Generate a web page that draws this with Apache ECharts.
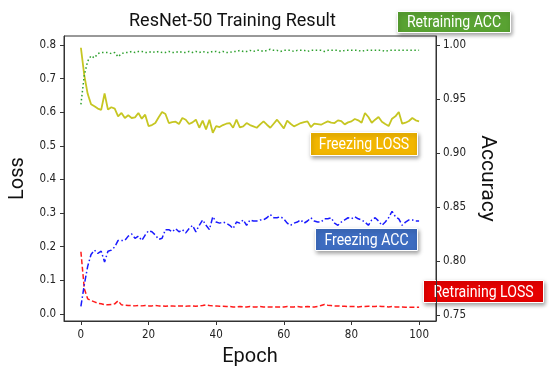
<!DOCTYPE html>
<html>
<head>
<meta charset="utf-8">
<script src="https://cdn.jsdelivr.net/npm/echarts@6/dist/echarts.min.js"></script>
<style>
  html, body { margin: 0; padding: 0; background: #fff; }
  #chart { width: 549px; height: 366px; }
</style>
</head>
<body>
<div id="chart"></div>
<script>
// epochs 0..100
const epochs = Array.from({ length: 101 }, (_, i) => i);

const lossTicks = [0, 0.1, 0.2, 0.3, 0.4, 0.5, 0.6, 0.7, 0.8];
const accTicks = [0.75, 0.8, 0.85, 0.9, 0.95, 1.0];
const epochTicks = [0, 20, 40, 60, 80, 100];

// Freezing LOSS (left axis)
const freezingLoss = [
  0.792, 0.71, 0.655, 0.624, 0.618, 0.611, 0.607, 0.656, 0.608, 0.615,
  0.611, 0.588, 0.598, 0.583, 0.591, 0.583, 0.585, 0.598, 0.581, 0.593,
  0.559, 0.562, 0.568, 0.585, 0.601, 0.595, 0.568, 0.571, 0.572, 0.565,
  0.583, 0.578, 0.565, 0.570, 0.578, 0.554, 0.575, 0.549, 0.578, 0.539,
  0.559, 0.556, 0.562, 0.566, 0.568, 0.554, 0.578, 0.555, 0.558, 0.568,
  0.562, 0.558, 0.554, 0.564, 0.573, 0.563, 0.554, 0.566, 0.578, 0.565,
  0.552, 0.575, 0.566, 0.558, 0.563, 0.568, 0.571, 0.573, 0.556, 0.566,
  0.565, 0.563, 0.568, 0.573, 0.569, 0.568, 0.576, 0.574, 0.564, 0.570,
  0.573, 0.580, 0.576, 0.569, 0.598, 0.586, 0.569, 0.578, 0.586, 0.572,
  0.565, 0.559, 0.581, 0.588, 0.601, 0.566, 0.569, 0.574, 0.583, 0.576, 0.573
];

// Retraining LOSS (left axis)
const retrainingLoss = [
  0.185, 0.075, 0.045, 0.040, 0.036, 0.032, 0.030, 0.028, 0.027, 0.028,
  0.030, 0.039, 0.027, 0.026, 0.025, 0.025, 0.024, 0.025, 0.024, 0.025,
  0.024, 0.024, 0.025, 0.024, 0.024, 0.023, 0.024, 0.024, 0.023, 0.024,
  0.024, 0.023, 0.024, 0.024, 0.023, 0.024, 0.025, 0.027, 0.025, 0.024,
  0.024, 0.023, 0.023, 0.022, 0.022, 0.021, 0.021, 0.022, 0.021, 0.021,
  0.022, 0.021, 0.021, 0.022, 0.021, 0.021, 0.021, 0.020, 0.021, 0.021,
  0.021, 0.022, 0.021, 0.021, 0.022, 0.021, 0.021, 0.022, 0.021, 0.021,
  0.022, 0.025, 0.028, 0.026, 0.025, 0.024, 0.024, 0.023, 0.023, 0.022,
  0.022, 0.022, 0.021, 0.022, 0.022, 0.023, 0.022, 0.022, 0.023, 0.022,
  0.022, 0.021, 0.022, 0.021, 0.021, 0.021, 0.020, 0.020, 0.020, 0.020, 0.020
];

// Retraining ACC (right axis)
const retrainingAcc = [
  0.945, 0.972, 0.985, 0.990, 0.988, 0.992, 0.993, 0.993, 0.993, 0.992,
  0.993, 0.989, 0.992, 0.993, 0.993, 0.994, 0.993, 0.994, 0.994, 0.993,
  0.993, 0.994, 0.993, 0.994, 0.993, 0.993, 0.994, 0.993, 0.993, 0.994,
  0.993, 0.993, 0.994, 0.993, 0.994, 0.993, 0.994, 0.993, 0.993, 0.994,
  0.994, 0.993, 0.994, 0.993, 0.993, 0.994, 0.994, 0.995, 0.994, 0.994,
  0.995, 0.994, 0.995, 0.995, 0.994, 0.995, 0.996, 0.995, 0.995, 0.994,
  0.995, 0.995, 0.995, 0.994, 0.995, 0.995, 0.995, 0.994, 0.995, 0.995,
  0.995, 0.995, 0.994, 0.995, 0.995, 0.995, 0.995, 0.994, 0.995, 0.995,
  0.995, 0.995, 0.995, 0.994, 0.995, 0.995, 0.995, 0.995, 0.995, 0.995,
  0.994, 0.995, 0.995, 0.995, 0.995, 0.995, 0.995, 0.995, 0.995, 0.995, 0.995
];

// Freezing ACC (right axis)
const freezingAcc = [
  0.758, 0.778, 0.795, 0.806, 0.810, 0.807, 0.809, 0.799, 0.809, 0.810,
  0.813, 0.819, 0.819, 0.819, 0.823, 0.825, 0.821, 0.823, 0.819, 0.824,
  0.828, 0.827, 0.824, 0.820, 0.821, 0.829, 0.829, 0.827, 0.830, 0.827,
  0.829, 0.826, 0.830, 0.833, 0.827, 0.833, 0.838, 0.833, 0.829, 0.841,
  0.836, 0.835, 0.836, 0.835, 0.833, 0.830, 0.836, 0.835, 0.838, 0.833,
  0.838, 0.837, 0.837, 0.838, 0.838, 0.840, 0.843, 0.840, 0.840, 0.841,
  0.839, 0.835, 0.833, 0.835, 0.836, 0.838, 0.835, 0.837, 0.840, 0.837,
  0.836, 0.836, 0.839, 0.839, 0.840, 0.835, 0.833, 0.836, 0.838, 0.840,
  0.839, 0.841, 0.839, 0.838, 0.836, 0.833, 0.838, 0.840, 0.837, 0.833,
  0.836, 0.840, 0.846, 0.841, 0.839, 0.833, 0.836, 0.838, 0.838, 0.837, 0.837
];

const labelFont = "Roboto";
const tickFont = "DejaVu Sans Condensed";

function pairs(values) {
  return epochs.map((e, i) => [e, values[i]]);
}

// coloured tag boxes like the original's annotations
function tag(text, x, y, w, h, color) {
  return {
    type: "group",
    left: x,
    top: y,
    children: [
      {
        type: "rect",
        shape: { x: 0, y: 0, width: w, height: h },
        style: {
          fill: color,
          stroke: "#fff",
          lineWidth: 1,
          shadowBlur: 4,
          shadowOffsetX: 1,
          shadowOffsetY: 2,
          shadowColor: "rgba(0,0,0,0.35)",
        },
      },
      {
        type: "text",
        x: w / 2,
        y: h / 2 + 1,
        scaleX: 0.88,
        style: {
          text: text,
          fill: "#fff",
          font: "16px " + labelFont,
          textAlign: "center",
          textVerticalAlign: "middle",
        },
      },
    ],
  };
}

const chart = echarts.init(document.getElementById("chart"));

chart.setOption({
  animation: false,
  title: {
    text: "ResNet-50 Training Result",
    left: 124,
    top: 7,
    textStyle: {
      fontFamily: labelFont,
      fontSize: 18,
      fontWeight: "normal",
      color: "#111",
    },
  },
  grid: {
    left: 64,
    right: 113,
    top: 36,
    bottom: 45,
    outerBoundsMode: "none",
    show: true,
    borderColor: "#333",
    borderWidth: 1,
    backgroundColor: "#fff",
  },
  xAxis: {
    type: "value",
    min: -5,
    max: 105,
    name: "Epoch",
    nameLocation: "middle",
    nameGap: 26,
    nameTextStyle: { fontFamily: labelFont, fontSize: 20, color: "#111" },
    axisLine: { show: true, onZero: false, lineStyle: { color: "#333" } },
    axisTick: {
      show: true,
      length: 4,
      customValues: epochTicks,
      lineStyle: { color: "#333" },
    },
    axisLabel: {
      customValues: epochTicks,
      margin: 8,
      fontFamily: tickFont,
      fontSize: 11.5,
      color: "#222",
    },
    splitLine: { show: false },
  },
  yAxis: [
    {
      type: "value",
      position: "left",
      min: -0.021,
      max: 0.827,
      name: "Loss",
      nameLocation: "middle",
      nameGap: 36,
      nameRotate: 90,
      nameTextStyle: { fontFamily: labelFont, fontSize: 20, color: "#111" },
      axisLine: { show: true, onZero: false, lineStyle: { color: "#333" } },
      axisTick: {
        show: true,
        length: 4,
        customValues: lossTicks,
        lineStyle: { color: "#333" },
      },
      axisLabel: {
        customValues: lossTicks,
        margin: 8,
        fontFamily: tickFont,
        fontSize: 11.5,
        color: "#222",
        formatter: (v) => v.toFixed(1),
      },
      splitLine: { show: false },
    },
    {
      type: "value",
      position: "right",
      min: 0.7444,
      max: 1.0083,
      name: "Accuracy",
      nameLocation: "middle",
      nameGap: 31,
      nameRotate: -90,
      nameTextStyle: { fontFamily: labelFont, fontSize: 21, color: "#111" },
      axisLine: { show: true, onZero: false, lineStyle: { color: "#333" } },
      axisTick: {
        show: true,
        length: 4,
        customValues: accTicks,
        lineStyle: { color: "#333" },
      },
      axisLabel: {
        customValues: accTicks,
        margin: 7,
        fontFamily: tickFont,
        fontSize: 11.5,
        color: "#222",
        formatter: (v) => v.toFixed(2),
      },
      splitLine: { show: false },
    },
  ],
  series: [
    {
      name: "Freezing LOSS",
      type: "line",
      yAxisIndex: 0,
      data: pairs(freezingLoss),
      showSymbol: false,
      lineStyle: { color: "#c6c622", width: 1.8 },
    },
    {
      name: "Retraining LOSS",
      type: "line",
      yAxisIndex: 0,
      data: pairs(retrainingLoss),
      showSymbol: false,
      lineStyle: { color: "#ff1a1a", width: 1.5, type: [5, 2.5] },
    },
    {
      name: "Retraining ACC",
      type: "line",
      yAxisIndex: 1,
      data: pairs(retrainingAcc),
      showSymbol: false,
      lineStyle: { color: "#2ea02e", width: 1.5, type: [1.5, 2.5] },
    },
    {
      name: "Freezing ACC",
      type: "line",
      yAxisIndex: 1,
      data: pairs(freezingAcc),
      showSymbol: false,
      lineStyle: { color: "#1a1aff", width: 1.5, type: [6, 2.5, 1.5, 2.5] },
    },
  ],
  graphic: [
    tag("Retraining ACC", 397, 11, 113, 21, "#59a232"),
    tag("Freezing LOSS", 310, 132, 107, 23, "#f2b600"),
    tag("Freezing ACC", 315, 228, 102, 22, "#3d6cc0"),
    tag("Retraining LOSS", 423, 280, 120, 22, "#e60000"),
  ],
});
</script>
</body>
</html>
